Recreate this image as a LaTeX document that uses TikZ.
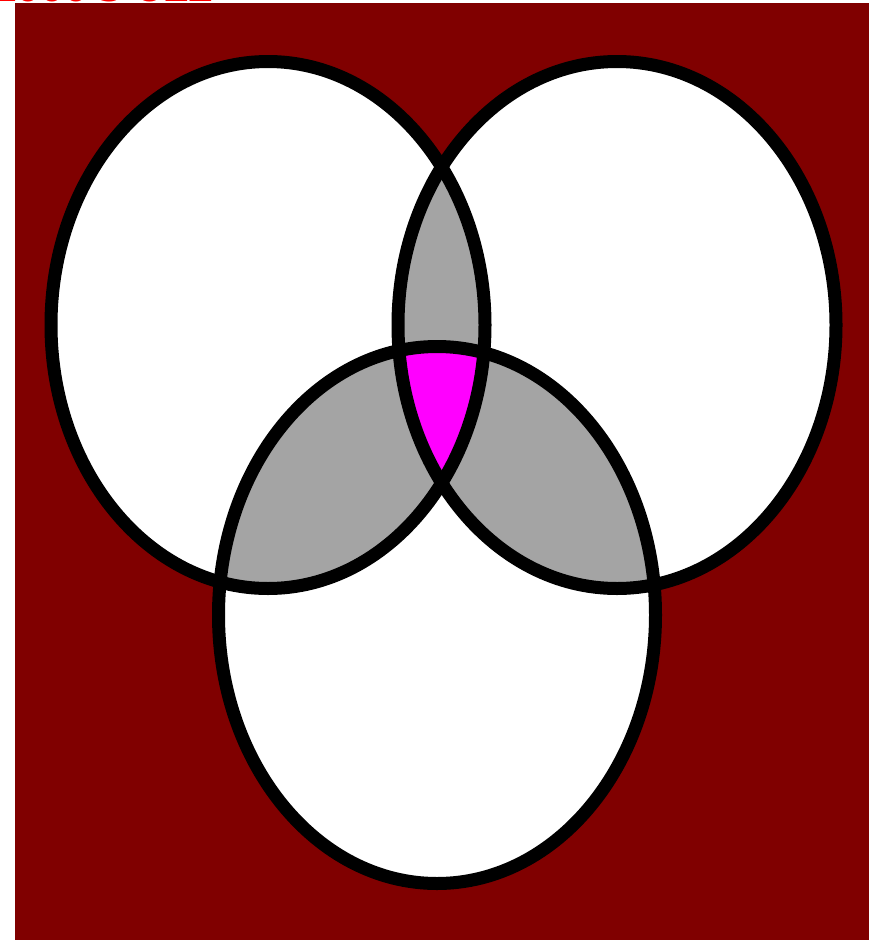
\documentclass[tikz,border=0pt]{standalone}
\usepackage{fontspec}
\newfontfamily\capfont{DejaVu Sans}
\definecolor{bgmaroon}{RGB}{128,0,0}
\definecolor{lensgray}{RGB}{164,164,164}
\definecolor{tripmag}{RGB}{255,0,255}
\definecolor{capred}{RGB}{255,0,0}
\begin{document}
\begin{tikzpicture}[x=1pt,y=-1pt,
  ring/.style={draw=black,line width=13pt},
  caption/.style={text=capred,font=\capfont\bfseries\fontsize{34}{34}\selectfont,anchor=base west,inner sep=0pt}]
\useasboundingbox (0,0) rectangle (877,940);
\fill[bgmaroon] (15,3) rectangle (869,940);
\node[caption] (title) at (-8,1) {Z000 3 OZZ};
\def\EL{(268,325) ellipse [x radius=217, y radius=263.5]}
\def\ER{(617,325) ellipse [x radius=219, y radius=263.5]}
\def\EB{(437,615) ellipse [x radius=218.5, y radius=268.5]}
% white discs
\fill[white] \EL; \fill[white] \ER; \fill[white] \EB;
% pairwise lenses
\begin{scope}\clip \EL; \fill[lensgray] \ER; \fill[lensgray] \EB;\end{scope}
\begin{scope}\clip \ER; \fill[lensgray] \EB;\end{scope}
% triple region
\begin{scope}\clip \EL; \clip \ER; \fill[tripmag] \EB;\end{scope}
% outlines
\draw[ring] \EL; \draw[ring] \ER; \draw[ring] \EB;
\end{tikzpicture}
\end{document}
